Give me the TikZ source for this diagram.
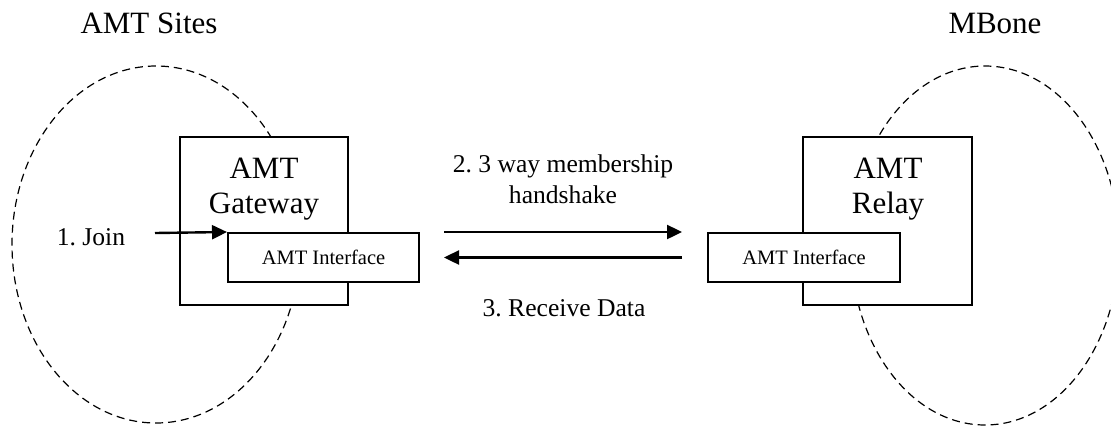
\documentclass[tikz,border=0pt]{standalone}
\usepackage{fontspec}
\setmainfont{Liberation Serif}
\usetikzlibrary{arrows.meta}
\frenchspacing
\begin{document}
\begin{tikzpicture}[x=1pt,y=-1pt,
  cloud/.style={draw,line width=1.2pt,dash pattern=on 8pt off 5pt},
  devbox/.style={draw,fill=white,line width=2pt,inner sep=0pt},
  bigtxt/.style={font=\fontsize{31}{36}\selectfont,anchor=base,inner sep=0pt},
  midtxt/.style={font=\fontsize{25.6}{30}\selectfont,anchor=base,inner sep=0pt},
  smalltxt/.style={font=\fontsize{20.5}{24}\selectfont},
  flow/.style={line width=2.4pt,-{Triangle[length=15pt,width=14pt]}}]
\useasboundingbox (0,0) rectangle (1111,429);
\clip (0,0) rectangle (1111,429);
% clouds
\draw[cloud] (156,244.5) ellipse [x radius=144, y radius=178.5];
\draw[cloud] (985,245.5) ellipse [x radius=134, y radius=179.5];
% titles
\node[bigtxt] (sites) at (149,33) {AMT Sites};
\node[bigtxt] (mbone) at (995,33) {MBone};
% gateway
\node[devbox,minimum width=168pt,minimum height=168pt] (gw) at (264,221) {};
\node[bigtxt] (gwa) at (264,178) {AMT};
\node[bigtxt] (gwb) at (264,213) {Gateway};
\node[devbox,smalltxt,minimum width=191pt,minimum height=49pt] (gwif) at (323.5,257.5) {AMT Interface};
% relay
\node[devbox,minimum width=169pt,minimum height=168pt] (rl) at (887.5,221) {};
\node[bigtxt] (rla) at (888,178) {AMT};
\node[bigtxt] (rlb) at (888,213) {Relay};
\node[devbox,smalltxt,minimum width=192pt,minimum height=49pt] (rlif) at (804,257.5) {AMT Interface};
% join
\node[midtxt] (join) at (91,245) {1. Join};
\coordinate (joinstart) at (155,233);
\draw[flow] (joinstart) -- (gwif.north west);
% handshake
\draw[flow] ([xshift=24pt]gwif.north east) -- ([xshift=-25pt]rlif.north west);
\draw[flow] ([xshift=-25pt]rlif.west) -- ([xshift=24pt]gwif.east);
\node[midtxt] (hs1) at (563,172) {2. 3 way membership};
\node[midtxt] (hs2) at (563,203) {handshake};
\node[midtxt] (recv) at (564,316) {3. Receive Data};
\end{tikzpicture}
\end{document}
